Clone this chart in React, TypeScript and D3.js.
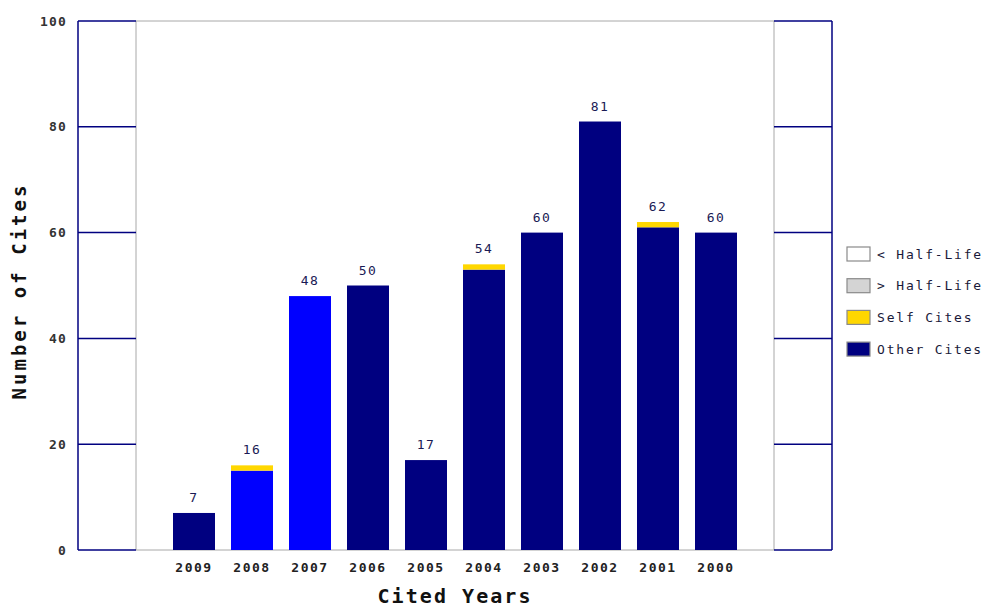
import React from 'react';
import * as d3 from 'd3';

// cited years, newest first as in the report
const years = ['2009', '2008', '2007', '2006', '2005', '2004', '2003', '2002', '2001', '2000'];
const otherCites = [7, 15, 48, 50, 17, 53, 60, 81, 61, 60];
const selfCites = [0, 1, 0, 0, 0, 1, 0, 0, 1, 0];
// years drawn in the bright blue (current window)
const highlighted = ['2008', '2007'];
const yTicks = [0, 20, 40, 60, 80, 100];
const legendItems = ['< Half-Life', '> Half-Life', 'Self Cites', 'Other Cites'];

const W = 989;
const H = 607;
const boxL = 78; // outer left of the left tick box
const plotL = 136;
const plotR = 774;
const boxR = 832;
const top = 21;
const bottom = 550;

const NAVY = '#000080';
const BLUE = '#0000ff';
const GOLD = '#ffd700';
const FRAME = '#a8a8a8';
const MONO = '"DejaVu Sans Mono", "Liberation Mono", monospace';

const legendFill = ['#ffffff', '#d4d4d4', GOLD, NAVY];

const App: React.FC = () => {
  const x = d3.scalePoint<string>().domain(years).range([plotL, plotR]).padding(1);
  const y = d3.scaleLinear().domain([0, 100]).range([bottom, top]);
  const barW = 42;

  return (
    <svg
      width={W}
      height={H}
      style={{ position: 'absolute', left: 0, top: 0, background: '#fff' }}
    >
      {/* frame of the plot area */}
      <line x1={plotL} x2={plotR} y1={top} y2={top} stroke={FRAME} />
      <line x1={plotL} x2={plotR} y1={bottom} y2={bottom} stroke={FRAME} />
      <line x1={plotL} x2={plotL} y1={top} y2={bottom} stroke={FRAME} />
      <line x1={plotR} x2={plotR} y1={top} y2={bottom} stroke={FRAME} />

      {/* side boxes with the tick lines */}
      <line x1={boxL} x2={boxL} y1={top} y2={bottom} stroke={NAVY} strokeWidth={1.5} />
      <line x1={boxR} x2={boxR} y1={top} y2={bottom} stroke={NAVY} strokeWidth={1.5} />
      {yTicks.map((t) => (
        <g key={t}>
          <line x1={boxL} x2={plotL} y1={y(t)} y2={y(t)} stroke={NAVY} strokeWidth={1.5} />
          <line x1={plotR} x2={boxR} y1={y(t)} y2={y(t)} stroke={NAVY} strokeWidth={1.5} />
          <text
            x={67}
            y={y(t)}
            textAnchor="end"
            dominantBaseline="central"
            fontFamily={MONO}
            fontSize={13}
            fontWeight="bold"
            letterSpacing={1.2}
            fill="#333"
          >
            {t}
          </text>
        </g>
      ))}

      {/* bars */}
      {years.map((yr, i) => {
        const cx = x(yr) as number;
        const other = otherCites[i];
        const self = selfCites[i];
        const total = other + self;
        return (
          <g key={yr}>
            <rect
              x={cx - barW / 2}
              y={y(other)}
              width={barW}
              height={y(0) - y(other)}
              fill={highlighted.includes(yr) ? BLUE : NAVY}
            />
            {self > 0 && (
              <rect
                x={cx - barW / 2}
                y={y(total)}
                width={barW}
                height={y(other) - y(total)}
                fill={GOLD}
              />
            )}
            <text
              x={cx}
              y={y(total) - 11}
              textAnchor="middle"
              fontFamily={MONO}
              fontSize={13}
              letterSpacing={1.5}
              fill="#1a1a55"
            >
              {total}
            </text>
            <text
              x={cx}
              y={572}
              textAnchor="middle"
              fontFamily={MONO}
              fontSize={13}
              fontWeight="bold"
              letterSpacing={1.5}
              fill="#222"
            >
              {yr}
            </text>
          </g>
        );
      })}

      {/* axis titles */}
      <text
        x={454}
        y={603}
        textAnchor="middle"
        fontFamily={MONO}
        fontSize={20}
        fontWeight="bold"
        textLength={153}
        fill="#111"
      >
        Cited Years
      </text>
      <text
        transform={`translate(26,${(top + bottom) / 2 + 7}) rotate(-90)`}
        textAnchor="middle"
        fontFamily={MONO}
        fontSize={19}
        fontWeight="bold"
        textLength={214}
        fill="#111"
      >
        Number of Cites
      </text>

      {/* legend */}
      {legendItems.map((label, i) => (
        <g key={label} transform={`translate(847,${247 + i * 31.7})`}>
          <rect width={23} height={14} fill={legendFill[i]} stroke="#8a8a8a" strokeWidth={1.2} />
          <text
            x={30}
            y={7}
            dominantBaseline="central"
            fontFamily={MONO}
            fontSize={13}
            letterSpacing={1.8}
            fill="#1a1a3a"
          >
            {label}
          </text>
        </g>
      ))}
    </svg>
  );
};

export default App;
